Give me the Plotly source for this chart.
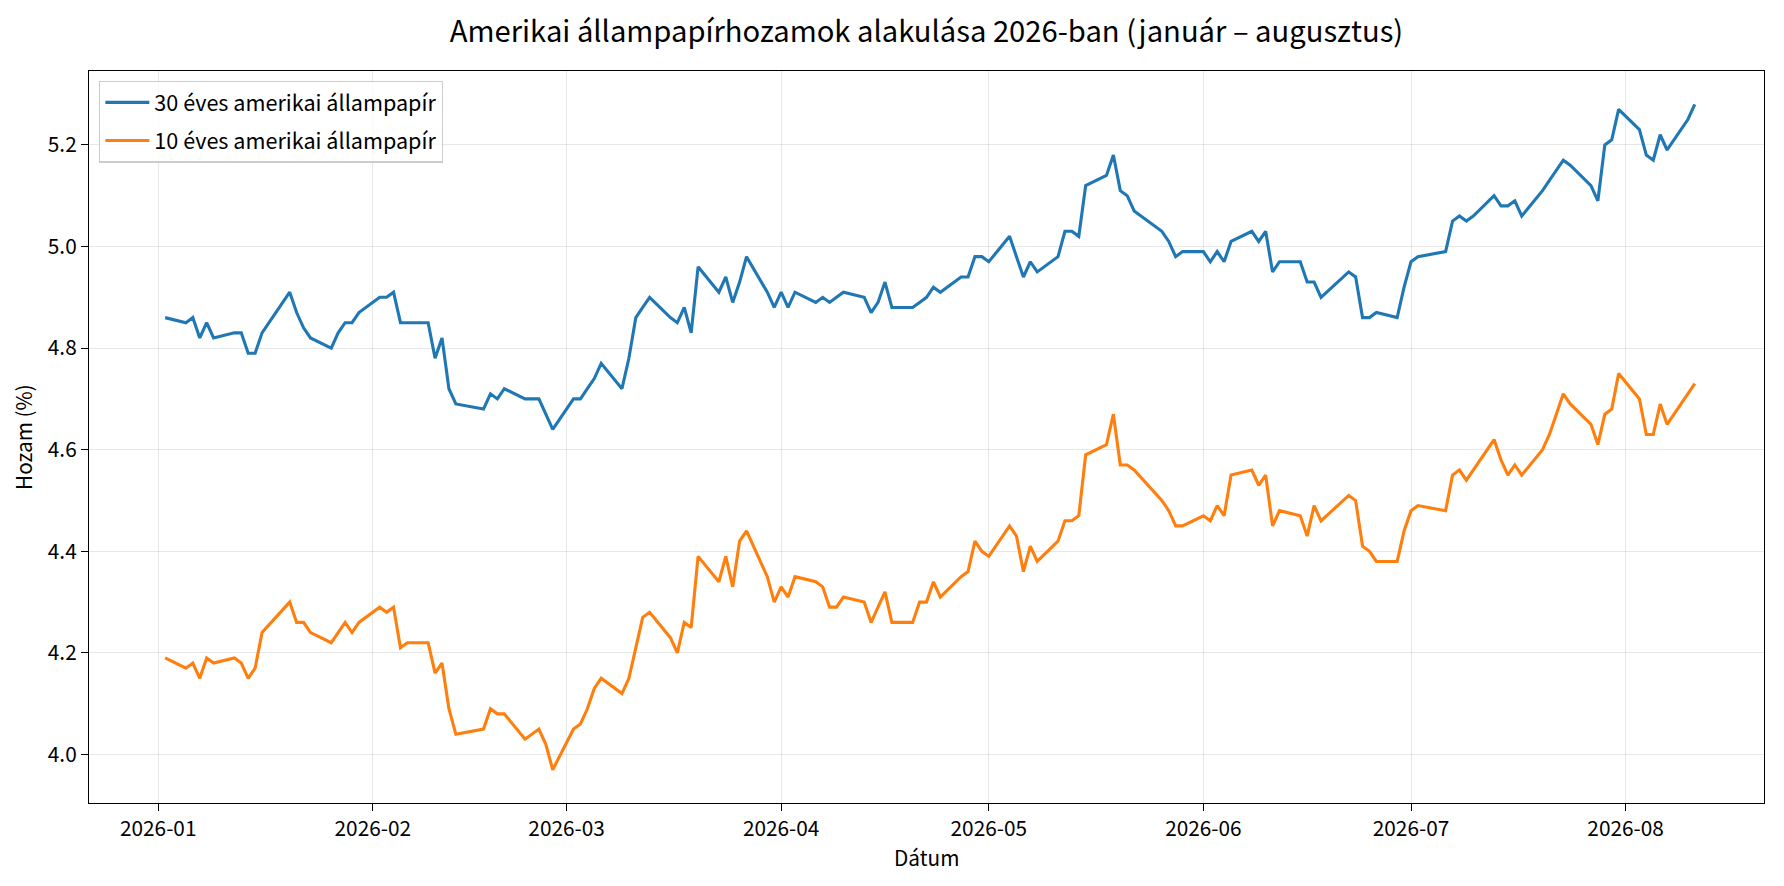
import pandas as pd
import plotly.graph_objects as go

# ---------------- data ----------------
START_DATE = "2026-01-02"
END_DATE = "2026-08-11"
MARKET_HOLIDAYS = ["2026-01-19", "2026-02-16", "2026-05-25", "2026-06-19", "2026-07-03"]

# 30-year US Treasury yield (%), one value per trading day
yield_30y = [
    # Jan
    4.86, 4.85, 4.86, 4.82, 4.85, 4.82, 4.83, 4.83, 4.79, 4.79, 4.83, 4.91, 4.87, 4.84, 4.82, 4.80, 4.83, 4.85, 4.85, 4.87,
    # Feb
    4.90, 4.90, 4.91, 4.85, 4.85, 4.85, 4.78, 4.82, 4.72, 4.69, 4.68, 4.71, 4.70, 4.72, 4.70, 4.70, 4.70, 4.67, 4.64,
    # Mar
    4.70, 4.70, 4.72, 4.74, 4.77, 4.72, 4.78, 4.86, 4.88, 4.90, 4.86, 4.85, 4.88, 4.83, 4.96, 4.91, 4.94, 4.89, 4.93, 4.98, 4.91, 4.88,
    # Apr
    4.91, 4.88, 4.91, 4.89, 4.90, 4.89, 4.90, 4.91, 4.90, 4.87, 4.89, 4.93, 4.88, 4.88, 4.89, 4.90, 4.92, 4.91, 4.94, 4.94, 4.98, 4.98,
    # May
    4.97, 5.02, 4.98, 4.94, 4.97, 4.95, 4.98, 5.03, 5.03, 5.02, 5.12, 5.14, 5.18, 5.11, 5.10, 5.07, 5.03, 5.01, 4.98, 4.99,
    # Jun
    4.99, 4.97, 4.99, 4.97, 5.01, 5.03, 5.01, 5.03, 4.95, 4.97, 4.97, 4.93, 4.93, 4.90, 4.95, 4.94, 4.86, 4.86, 4.87, 4.86, 4.92,
    # Jul
    4.97, 4.98, 4.99, 5.05, 5.06, 5.05, 5.06, 5.10, 5.08, 5.08, 5.09, 5.06, 5.11, 5.13, 5.15, 5.17, 5.16, 5.12, 5.09, 5.20, 5.21, 5.27,
    # Aug
    5.23, 5.18, 5.17, 5.22, 5.19, 5.25, 5.28,
]

# 10-year US Treasury yield (%)
yield_10y = [
    # Jan
    4.19, 4.17, 4.18, 4.15, 4.19, 4.18, 4.19, 4.18, 4.15, 4.17, 4.24, 4.30, 4.26, 4.26, 4.24, 4.22, 4.24, 4.26, 4.24, 4.26,
    # Feb
    4.29, 4.28, 4.29, 4.21, 4.22, 4.22, 4.16, 4.18, 4.09, 4.04, 4.05, 4.09, 4.08, 4.08, 4.03, 4.04, 4.05, 4.02, 3.97,
    # Mar
    4.05, 4.06, 4.09, 4.13, 4.15, 4.12, 4.15, 4.21, 4.27, 4.28, 4.23, 4.20, 4.26, 4.25, 4.39, 4.34, 4.39, 4.33, 4.42, 4.44, 4.35, 4.30,
    # Apr
    4.33, 4.31, 4.35, 4.34, 4.33, 4.29, 4.29, 4.31, 4.30, 4.26, 4.29, 4.32, 4.26, 4.26, 4.30, 4.30, 4.34, 4.31, 4.35, 4.36, 4.42, 4.40,
    # May
    4.39, 4.45, 4.43, 4.36, 4.41, 4.38, 4.42, 4.46, 4.46, 4.47, 4.59, 4.61, 4.67, 4.57, 4.57, 4.56, 4.50, 4.48, 4.45, 4.45,
    # Jun
    4.47, 4.46, 4.49, 4.47, 4.55, 4.56, 4.53, 4.55, 4.45, 4.48, 4.47, 4.43, 4.49, 4.46, 4.51, 4.50, 4.41, 4.40, 4.38, 4.38, 4.44,
    # Jul
    4.48, 4.49, 4.48, 4.55, 4.56, 4.54, 4.56, 4.62, 4.58, 4.55, 4.57, 4.55, 4.60, 4.63, 4.67, 4.71, 4.69, 4.65, 4.61, 4.67, 4.68, 4.75,
    # Aug
    4.70, 4.63, 4.63, 4.69, 4.65, 4.71, 4.73,
]

series_names = ["30 éves amerikai állampapír", "10 éves amerikai állampapír"]
month_ticks = ["2026-01-01", "2026-02-01", "2026-03-01", "2026-04-01",
               "2026-05-01", "2026-06-01", "2026-07-01", "2026-08-01"]
month_labels = ["2026-01", "2026-02", "2026-03", "2026-04",
                "2026-05", "2026-06", "2026-07", "2026-08"]
y_ticks = [4.0, 4.2, 4.4, 4.6, 4.8, 5.0, 5.2]
y_labels = ["4.0", "4.2", "4.4", "4.6", "4.8", "5.0", "5.2"]

title_text = "Amerikai állampapírhozamok alakulása 2026-ban (január – augusztus)"
x_title = "Dátum"
y_title = "Hozam (%)"

# ---------------- figure ----------------
dates = pd.bdate_range(START_DATE, END_DATE, freq="C", holidays=MARKET_HOLIDAYS)
assert len(dates) == len(yield_30y) == len(yield_10y), (len(dates), len(yield_30y), len(yield_10y))

FONT = "Noto Sans CJK SC"
W, H = 1784, 886
ML, MR, MT, MB = 89, 20, 71, 83
FS = 20.8

x_range = [dates[0] - pd.Timedelta(days=11.0), dates[-1] + pd.Timedelta(days=10.0)]
all_y = yield_30y + yield_10y
ys = max(all_y) - min(all_y)
y_range = [min(all_y) - ys * 0.05, max(all_y) + ys * 0.05]

fig = go.Figure()
fig.add_trace(go.Scatter(x=dates, y=yield_30y, mode="lines", name=series_names[0],
                         legendgroup="a", line=dict(color="#1f77b4", width=3.1)))
fig.add_trace(go.Scatter(x=dates, y=yield_10y, mode="lines", name=series_names[1],
                         legendgroup="b", line=dict(color="#ff7f0e", width=3.1)))

axis_common = dict(
    showline=True, linecolor="black", linewidth=1.3, mirror=True,
    ticks="outside", ticklen=7, tickwidth=1.3, tickcolor="black",
    showgrid=True, gridcolor="rgba(176,176,176,0.3)", gridwidth=1.3,
    zeroline=False, tickfont=dict(family=FONT, size=FS, color="black"),
)

fig.update_layout(
    width=W, height=H,
    margin=dict(l=ML, r=MR, t=MT, b=MB, pad=0),
    paper_bgcolor="white", plot_bgcolor="white",
    font=dict(family=FONT, color="black"),
    title=dict(text=title_text, x=0.5, xref="paper", xanchor="center",
               y=1 - 32 / H, yref="container", yanchor="middle",
               font=dict(family=FONT, size=29.2, color="black")),
    xaxis=dict(type="date", range=x_range, tickvals=month_ticks, ticktext=month_labels,
               **axis_common),
    yaxis=dict(range=y_range, tickvals=y_ticks, ticktext=y_labels, **axis_common),
    legend=dict(x=0.006, y=0.987, xanchor="left", yanchor="top",
                bgcolor="rgba(255,255,255,0.8)", bordercolor="#cccccc", borderwidth=1.3,
                font=dict(family=FONT, size=21.6, color="black"),
                tracegroupgap=7, itemwidth=44),
    showlegend=True,
    annotations=[
        dict(text=x_title, x=0.5, y=0, xref="paper", yref="paper", xanchor="center",
             yanchor="middle", yshift=-54, showarrow=False,
             font=dict(family=FONT, size=FS, color="black")),
        dict(text=y_title, x=0, y=0.5, xref="paper", yref="paper", xanchor="center",
             yanchor="middle", xshift=-66, textangle=-90, showarrow=False,
             font=dict(family=FONT, size=FS, color="black")),
    ],
)

fig.write_html("out.html", config={"displayModeBar": False},
               post_script="document.body.style.margin='0';document.body.style.overflow='hidden';")
